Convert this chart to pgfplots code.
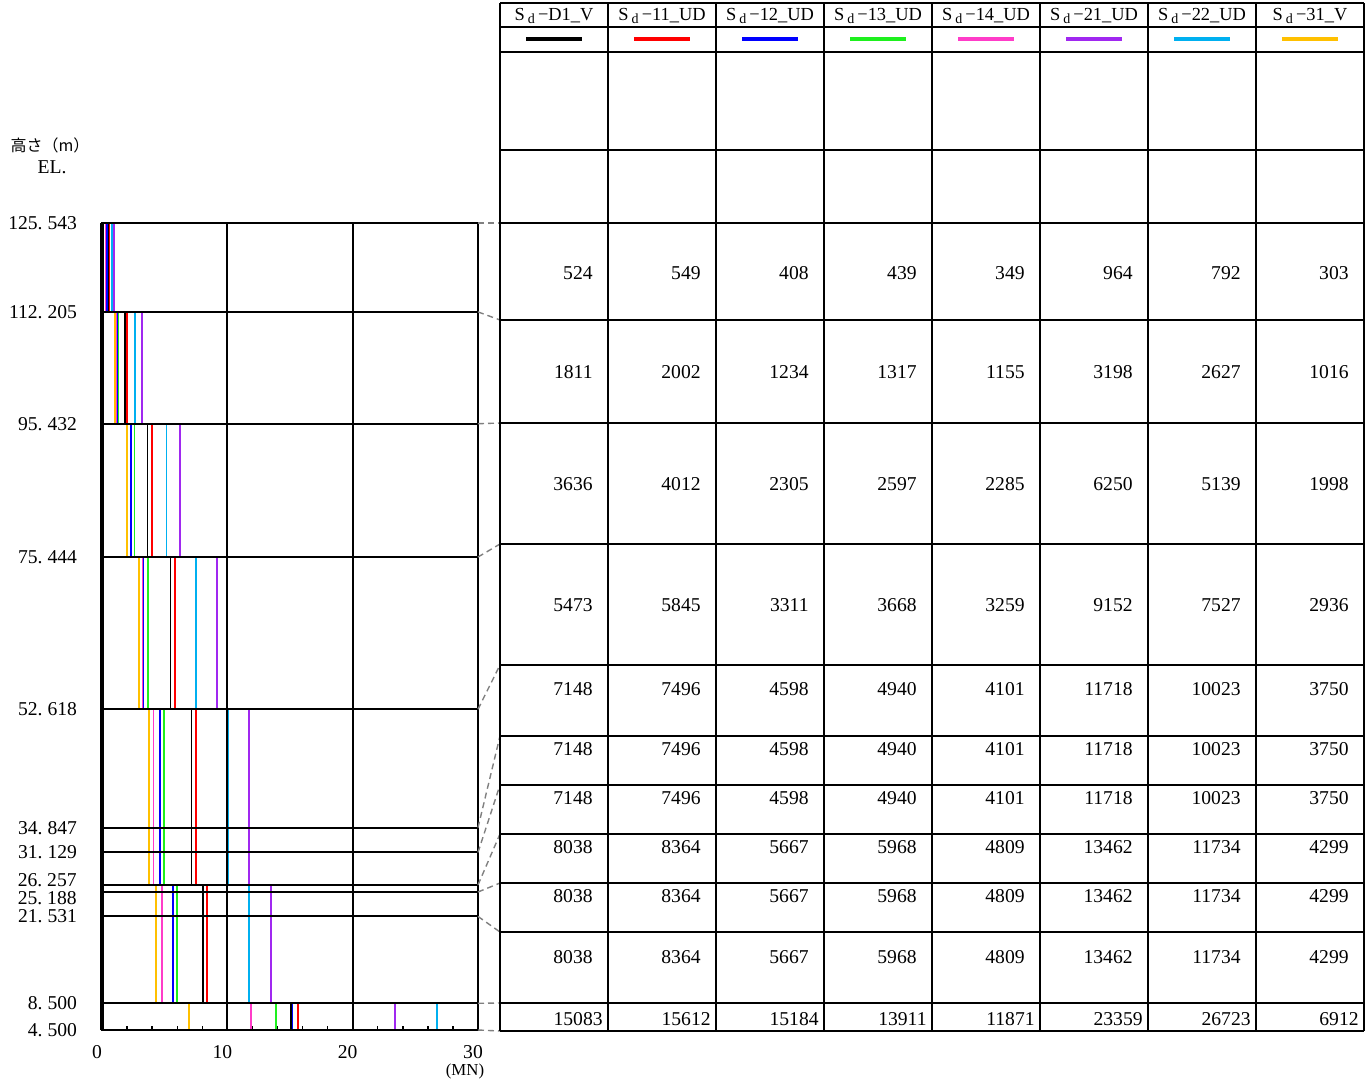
\documentclass[border=0pt]{standalone}
\usepackage{fontspec}
\setmainfont{Liberation Serif}
\newfontfamily\jp{Noto Sans CJK JP}
\usepackage{pgfplots}
\pgfplotsset{compat=1.18}

\definecolor{cD1}{RGB}{0,0,0}
\definecolor{c11}{RGB}{255,0,0}
\definecolor{c12}{RGB}{0,0,255}
\definecolor{c13}{RGB}{30,240,30}
\definecolor{c14}{RGB}{255,60,200}
\definecolor{c21}{RGB}{160,40,240}
\definecolor{c22}{RGB}{0,176,240}
\definecolor{c31}{RGB}{255,192,0}

\newcommand\nf{\fontsize{9.8}{12}\selectfont}
\newcommand\hf{\fontsize{9.2}{10}\selectfont}
% one table row: y of text, eight values, distance of text end from the column's right edge
\newcommand\trow[3]{%
  \foreach \v [count=\i] in {#2} {\node[anchor=east,font=\nf,inner sep=0pt] at (500+108*\i-#3,#1) {\v};}}

\begin{document}
\begin{tikzpicture}
\begin{axis}[
  at={(51pt,-515pt)}, anchor=south west,
  scale only axis, width=188pt, height=403.5pt,
  xmin=0, xmax=30, ymin=4.5, ymax=125.543,
  axis on top, clip=false,
  xtick={0,10,20,30}, xticklabels={0,10,20,30},
  minor x tick num=4,
  xtick pos=bottom, ytick pos=left, tick align=inside,
  major tick length=0pt, minor tick length=2pt,
  ytick={4.5,8.5,21.531,25.188,26.257,31.129,34.847,52.618,75.444,95.432,112.205,125.543},
  yticklabels={4.\ 500,8.\ 500,21.\ 531,,,31.\ 129,34.\ 847,52.\ 618,75.\ 444,95.\ 432,112.\ 205,125.\ 543},
  xmajorgrids, ymajorgrids,
  major grid style={black, line width=1pt},
  axis line style={line width=1pt},
  every tick/.style={black, line width=0.7pt},
  ticklabel style={font=\nf},
  yticklabel style={xshift=-9pt},
  xticklabel style={xshift=-2.5pt, yshift=-4pt},
]
% S_d-31_V
\addplot[c31, line width=0.9pt] coordinates {(0.303,125.543)(0.303,112.205)(1.016,112.205)(1.016,95.432)(1.998,95.432)(1.998,75.444)(2.936,75.444)(2.936,52.618)(3.750,52.618)(3.750,26.257)(4.299,26.257)(4.299,8.5)(6.912,8.5)(6.912,4.5)};
% S_d-14_UD
\addplot[c14, line width=0.9pt] coordinates {(0.349,125.543)(0.349,112.205)(1.155,112.205)(1.155,95.432)(2.285,95.432)(2.285,75.444)(3.259,75.444)(3.259,52.618)(4.101,52.618)(4.101,26.257)(4.809,26.257)(4.809,8.5)(11.871,8.5)(11.871,4.5)};
% S_d-13_UD
\addplot[c13, line width=0.9pt] coordinates {(0.439,125.543)(0.439,112.205)(1.317,112.205)(1.317,95.432)(2.597,95.432)(2.597,75.444)(3.668,75.444)(3.668,52.618)(4.940,52.618)(4.940,26.257)(5.968,26.257)(5.968,8.5)(13.911,8.5)(13.911,4.5)};
% S_d-12_UD
\addplot[c12, line width=0.9pt] coordinates {(0.408,125.543)(0.408,112.205)(1.234,112.205)(1.234,95.432)(2.305,95.432)(2.305,75.444)(3.311,75.444)(3.311,52.618)(4.598,52.618)(4.598,26.257)(5.667,26.257)(5.667,8.5)(15.184,8.5)(15.184,4.5)};
% S_d-22_UD
\addplot[c22, line width=0.9pt] coordinates {(0.792,125.543)(0.792,112.205)(2.627,112.205)(2.627,95.432)(5.139,95.432)(5.139,75.444)(7.527,75.444)(7.527,52.618)(10.023,52.618)(10.023,26.257)(11.734,26.257)(11.734,8.5)(26.723,8.5)(26.723,4.5)};
% S_d-21_UD
\addplot[c21, line width=0.9pt] coordinates {(0.964,125.543)(0.964,112.205)(3.198,112.205)(3.198,95.432)(6.250,95.432)(6.250,75.444)(9.152,75.444)(9.152,52.618)(11.718,52.618)(11.718,26.257)(13.462,26.257)(13.462,8.5)(23.359,8.5)(23.359,4.5)};
% S_d-11_UD
\addplot[c11, line width=0.9pt] coordinates {(0.549,125.543)(0.549,112.205)(2.002,112.205)(2.002,95.432)(4.012,95.432)(4.012,75.444)(5.845,75.444)(5.845,52.618)(7.496,52.618)(7.496,26.257)(8.364,26.257)(8.364,8.5)(15.612,8.5)(15.612,4.5)};
% S_d-D1_V
\addplot[cD1, line width=0.9pt] coordinates {(0.524,125.543)(0.524,112.205)(1.811,112.205)(1.811,95.432)(3.636,95.432)(3.636,75.444)(5.473,75.444)(5.473,52.618)(7.148,52.618)(7.148,26.257)(8.038,26.257)(8.038,8.5)(15.083,8.5)(15.083,4.5)};
\draw[line width=1.6pt] (axis cs:0,4.5) -- (axis cs:0,125.543);
\end{axis}

\begin{scope}[x=0.5pt, y=-0.5pt]
\useasboundingbox (0,0) rectangle (1366,1083);
% axis captions
\node[font=\jp\fontsize{8}{10}\selectfont] at (50,145) {高さ（m）};
\node[font=\nf] at (52,167) {EL.};
\node[font=\fontsize{8.4}{10}\selectfont] at (465,1071) {(MN)};
% the two close level labels, set apart
\node[font=\nf, anchor=east, inner sep=0pt] at (77,880) {26.\ 257};
\node[font=\nf, anchor=east, inner sep=0pt] at (77,898) {25.\ 188};
% connectors from the plot levels to the table rows
\foreach \a/\b in {223/223,311.9/320,423.7/423,557/544,709.2/665,827.6/736,852.4/785,884.9/834,892/883,916.4/932,1003.3/1003,1030/1031}
  \draw[gray, line width=0.7pt, dash pattern=on 3pt off 2pt] (478,\a) -- (500,\b);
% table grid
\foreach \x in {500,608,716,824,932,1040,1148,1256,1364}
  \draw[line width=1.3pt] (\x,3) -- (\x,1031);
\foreach \y in {3,27,52,150,223,320,423,544,665,736,785,834,883,932,1003,1031}
  \draw[line width=1.3pt] (500,\y) -- (1364,\y);
% header and legend lines
\foreach \n/\c [count=\i] in {D1\_V/cD1,11\_UD/c11,12\_UD/c12,13\_UD/c13,14\_UD/c14,21\_UD/c21,22\_UD/c22,31\_V/c31} {
  \node[font=\hf] at (446+108*\i,16) {S\,\raisebox{-0.3ex}{\scriptsize d}\,−\n};
  \draw[\c, line width=2pt] (418+108*\i,39) -- (474+108*\i,39);
}
% values
\trow{273}{524,549,408,439,349,964,792,303}{15}
\trow{372}{1811,2002,1234,1317,1155,3198,2627,1016}{15}
\trow{484}{3636,4012,2305,2597,2285,6250,5139,1998}{15}
\trow{605}{5473,5845,3311,3668,3259,9152,7527,2936}{15}
\trow{689}{7148,7496,4598,4940,4101,11718,10023,3750}{15}
\trow{749}{7148,7496,4598,4940,4101,11718,10023,3750}{15}
\trow{798}{7148,7496,4598,4940,4101,11718,10023,3750}{15}
\trow{847}{8038,8364,5667,5968,4809,13462,11734,4299}{15}
\trow{896}{8038,8364,5667,5968,4809,13462,11734,4299}{15}
\trow{957}{8038,8364,5667,5968,4809,13462,11734,4299}{15}
\trow{1019}{15083,15612,15184,13911,11871,23359,26723,6912}{5}
\end{scope}
\end{tikzpicture}
\end{document}
